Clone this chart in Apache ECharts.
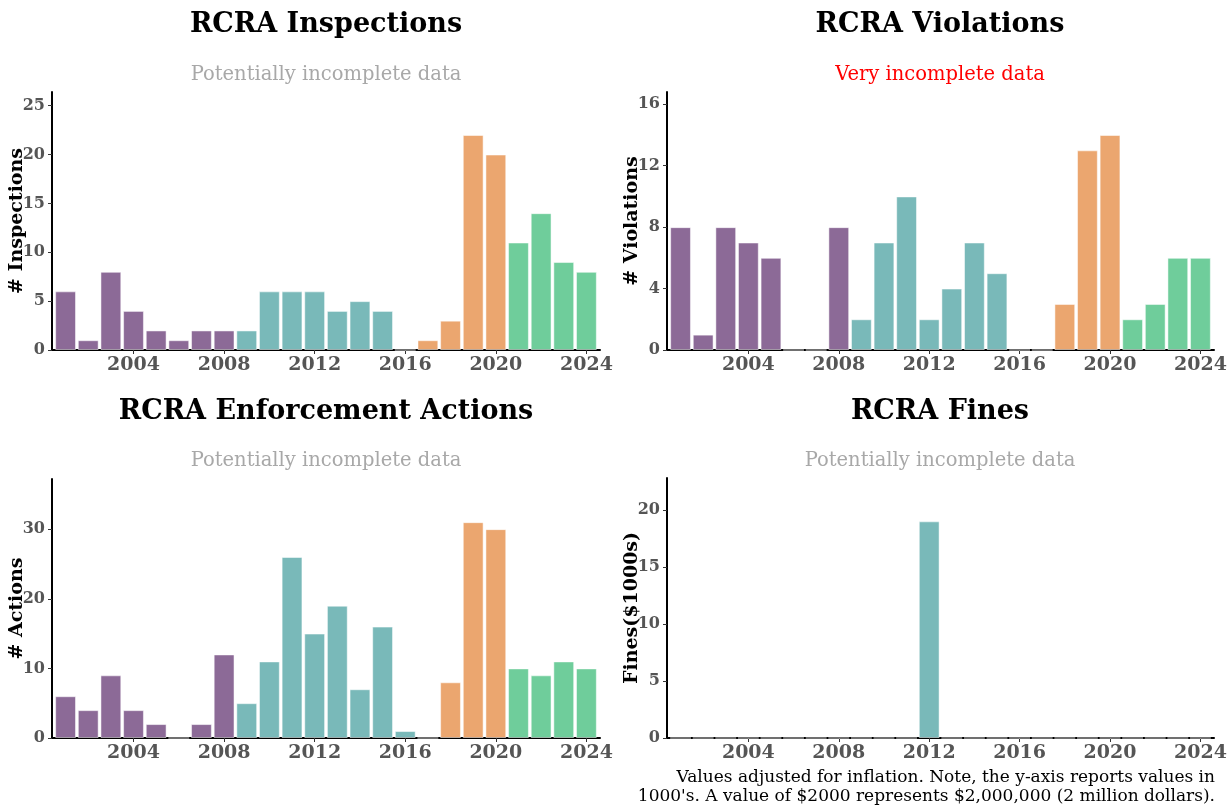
<!DOCTYPE html>
<html>
<head>
<meta charset="utf-8">
<script src="https://cdn.jsdelivr.net/npm/echarts@6/dist/echarts.min.js"></script>
<style>html,body{margin:0;padding:0;background:#fff;}#c{width:1231px;height:809px;}</style>
</head>
<body>
<div id="c"></div>
<script>
const years = [2001,2002,2003,2004,2005,2006,2007,2008,2009,2010,2011,2012,2013,2014,2015,2016,2017,2018,2019,2020,2021,2022,2023,2024];
const inspections = [6,1,8,4,2,1,2,2,2,6,6,6,4,5,4,0,1,3,22,20,11,14,9,8];
const violations  = [8,1,8,7,6,0,0,8,2,7,10,2,4,7,5,0,0,3,13,14,2,3,6,6];
const actions     = [6,4,9,4,2,0,2,12,5,11,26,15,19,7,16,1,0,8,31,30,10,9,11,10];
const fines       = [0,0,0,0,0,0,0,0,0,0,0,19,0,0,0,0,0,0,0,0,0,0,0,0];
const xTickLabels = [2004,2008,2012,2016,2020,2024];
const titles = ['RCRA Inspections','RCRA Violations','RCRA Enforcement Actions','RCRA Fines'];
const subtitles = ['Potentially incomplete data','Very incomplete data','Potentially incomplete data','Potentially incomplete data'];
const yNames = ['# Inspections','# Violations','# Actions','Fines($1000s)'];
const yIntervals = [5,4,10,5];
const footnote = "Values adjusted for inflation. Note, the y-axis reports values in\n1000's. A value of $2000 represents $2,000,000 (2 million dollars).";

const SERIF = "'DejaVu Serif', serif";
function periodColor(y){
  if (y <= 2008) return '#8c6a97';
  if (y <= 2016) return '#79b9b9';
  if (y <= 2020) return '#eba66f';
  return '#6fcd9b';
}
const datasets = [inspections, violations, actions, fines];
const grids = [
  {left:52, right:631, top:92, bottom:459},
  {left:667, right:17, top:92, bottom:459},
  {left:52, right:631, top:479, bottom:71},
  {left:667, right:17, top:478, bottom:71}
];
const titleTops = [[6,60],[6,60],[393,446],[393,446]];
const centers = [321, 935, 321, 935];

const option = {
  animation:false,
  backgroundColor:'#fff',
  title: [],
  grid: grids.map(g=>Object.assign({containLabel:false, outerBoundsMode:'none'}, g)),
  xAxis: [], yAxis: [], series: [],
  graphic: [{
    type:'text', right: 16, top: 768,
    style:{text: footnote, fill:'#000', font:"17px 'DejaVu Serif', serif", textAlign:'right', lineHeight:19}
  }]
};

for (let i=0;i<4;i++){
  option.title.push({text:titles[i], left:centers[i], textAlign:'center', top:titleTops[i][0],
    textStyle:{fontFamily:SERIF, fontWeight:'bold', fontSize:27, color:'#000'}});
  option.title.push({text:subtitles[i], left:centers[i], textAlign:'center', top:titleTops[i][1],
    textStyle:{fontFamily:SERIF, fontWeight:'normal', fontSize:19.5, color: i===1 ? '#ff0000' : '#a8a8a8'}});
  const maxV = Math.max(...datasets[i]) * 1.2;
  option.xAxis.push({
    type:'value', gridIndex:i, min:2000.4, max:2024.6,
    axisLine:{show:true, onZero:false, lineStyle:{color:'#000', width:2}},
    axisTick:{show:true, customValues:xTickLabels, length:4, lineStyle:{color:'#333', width:1}},
    axisLabel:{customValues:xTickLabels, color:'#555', fontFamily:SERIF, fontWeight:'bold', fontSize:19, margin:6, formatter:v=>String(v)},
    splitLine:{show:false}
  });
  option.yAxis.push({
    type:'value', gridIndex:i, min:0, max:maxV, interval:yIntervals[i],
    name:yNames[i], nameLocation:'middle', nameGap:25, nameMoveOverlap:false,
    nameTextStyle:{fontFamily:SERIF, fontWeight:'bold', fontSize:19, color:'#000'},
    axisLine:{show:true, lineStyle:{color:'#000', width:2}},
    axisTick:{show:true, length:4, lineStyle:{color:'#333', width:1}},
    axisLabel:{color:'#555', fontFamily:SERIF, fontWeight:'bold', fontSize:16, margin:7, showMaxLabel:false},
    splitLine:{show:false}
  });
  option.series.push({
    type:'bar', xAxisIndex:i, yAxisIndex:i, barWidth:'92%',
    data: years.map((y,k)=>({value:[y, datasets[i][k]], itemStyle:{color:periodColor(y)}})),
    itemStyle:{borderColor:'rgba(255,255,255,0.5)', borderWidth:1}
  });
}
const chart = echarts.init(document.getElementById('c'), null, {renderer:'canvas'});
chart.setOption(option);
</script>
</body>
</html>
